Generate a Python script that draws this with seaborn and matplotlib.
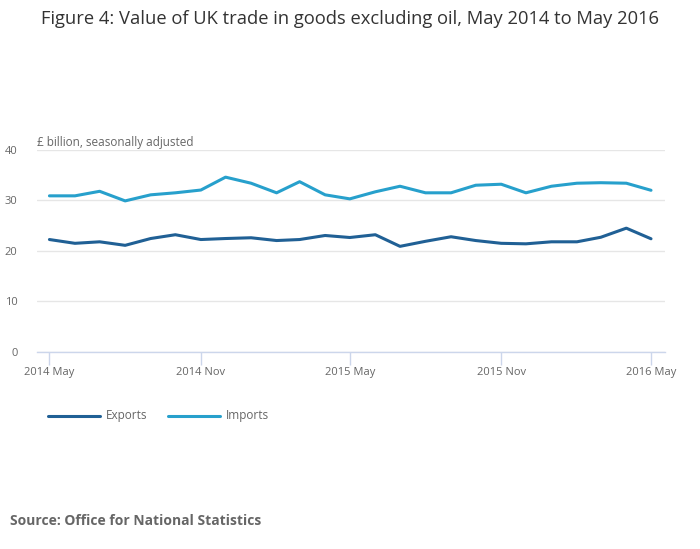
import matplotlib
matplotlib.use('Agg')
import matplotlib.pyplot as plt
import pandas as pd
import seaborn as sns

months = pd.date_range('2014-05-01', '2016-05-01', freq='MS')
exports = [22.25, 21.5, 21.8, 21.1, 22.45, 23.2, 22.25, 22.45, 22.6, 22.05, 22.25, 23.05,
           22.65, 23.2, 20.9, 21.9, 22.8, 22.05, 21.5, 21.4, 21.8, 21.8, 22.7, 24.5, 22.4]
imports = [30.9, 30.9, 31.8, 29.9, 31.1, 31.5, 32.05, 34.6, 33.4, 31.5, 33.7, 31.1,
           30.3, 31.7, 32.8, 31.5, 31.5, 33.0, 33.2, 31.5, 32.8, 33.4, 33.5, 33.4, 32.0]
tick_dates = pd.to_datetime(['2014-05-01', '2014-11-01', '2015-05-01', '2015-11-01', '2016-05-01'])
tick_labels = ['2014 May', '2014 Nov', '2015 May', '2015 Nov', '2016 May']
y_ticks = [0, 10, 20, 30, 40]

df = pd.DataFrame({'month': list(months) * 2,
                   'value': exports + imports,
                   'series': ['Exports'] * len(months) + ['Imports'] * len(months)})

sns.set_theme(style='white')
plt.rcParams['font.family'] = ['Open Sans', 'DejaVu Sans']

fig = plt.figure(figsize=(7, 5.49), dpi=100)
ax = fig.add_axes([0.053, 0.359, 0.897, 0.368])

sns.lineplot(data=df, x='month', y='value', hue='series',
             palette={'Exports': '#206095', 'Imports': '#27a0cc'},
             linewidth=2.2, ax=ax, legend=False)

ax.set_xlim(pd.Timestamp('2014-04-16'), pd.Timestamp('2016-05-18'))
ax.set_ylim(0, 40)
ax.set_yticks(y_ticks)
ax.set_xticks(tick_dates)
ax.set_xticklabels(tick_labels)
ax.set_xlabel('')
ax.set_ylabel('')
ax.grid(axis='y', color='#e6e6e6', linewidth=1)
ax.set_axisbelow(True)
for s in ['top', 'right', 'left']:
    ax.spines[s].set_visible(False)
ax.spines['bottom'].set_color('#ccd6eb')
ax.spines['bottom'].set_linewidth(1)
ax.tick_params(axis='x', colors='#ccd6eb', length=9, width=1, labelcolor='#666666', labelsize=8, pad=2, bottom=True)
ax.tick_params(axis='y', length=0, labelcolor='#666666', labelsize=8, pad=14)

ax.text(0, 1.006, '£ billion, seasonally adjusted', transform=ax.transAxes,
        fontsize=8.5, color='#666666', ha='left', va='bottom')

fig.text(0.5, 0.966, 'Figure 4: Value of UK trade in goods excluding oil, May 2014 to May 2016',
         ha='center', va='center', fontsize=13.2, color='#333333')

# legend drawn by hand
fig.add_artist(plt.Line2D([48 / 700, 100 / 700], [1 - 416 / 549] * 2, color='#206095', lw=2.2))
fig.text(106 / 700, 1 - 416 / 549, 'Exports', fontsize=8.5, color='#666666', va='center')
fig.add_artist(plt.Line2D([168 / 700, 220 / 700], [1 - 416 / 549] * 2, color='#27a0cc', lw=2.2))
fig.text(226 / 700, 1 - 416 / 549, 'Imports', fontsize=8.5, color='#666666', va='center')

fig.text(10 / 700, 1 - 521 / 549, 'Source: Office for National Statistics',
         fontsize=10, fontweight='bold', color='#666666', va='center')

fig.savefig('out.png', dpi=100)
plt.close(fig)
